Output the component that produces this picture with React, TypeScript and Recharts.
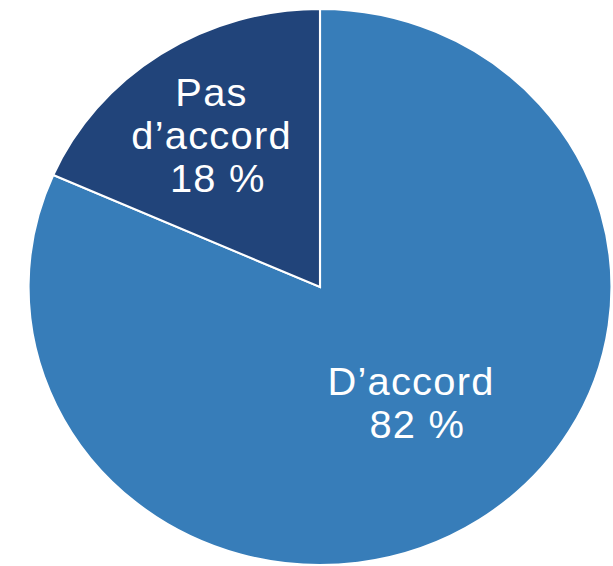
import { PieChart, Pie, Cell } from "recharts";

const categories = ["D’accord", "Pas\nd’accord"];
const values = [81.6, 18.4];
const colors = ["#377DB9", "#21447A"];

// label placement tweaks per slice (radius fraction, angle nudge in degrees)
const labelRadius = [0.52, 0.66];
const labelAngleShift = [3.8, 1.2];

const STRETCH_X = 1.0484;
const CX = 320;
const CY = 287;
const R = 278;
const FONT = 38;
const LINE = 43;

const data = categories.map((name, i) => ({ name, value: values[i] }));

const RADIAN = Math.PI / 180;

// eslint-disable-next-line @typescript-eslint/no-explicit-any
const renderLabel = (props: any) => {
  const { cx, cy, midAngle, outerRadius, index, name, value } = props;
  const angle = (midAngle + labelAngleShift[index]) * RADIAN;
  const r = outerRadius * labelRadius[index];
  const x = cx + r * Math.cos(angle);
  const y = cy - r * Math.sin(angle);
  const lines: string[] = [...String(name).split("\n"), `${Math.round(value)} %`];
  const firstBase = y - ((lines.length - 1) * LINE) / 2 + FONT * 0.36;
  return (
    <text
      key={`lbl-${index}`}
      x={x}
      y={firstBase}
      textAnchor="middle"
      fill="#FFFFFF"
      fontSize={FONT}
      letterSpacing={1.2}
      style={{ fontFamily: "'Liberation Sans', Arial, sans-serif" }}
    >
      {lines.map((ln, i) => (
        <tspan
          key={i}
          x={i === lines.length - 1 ? x + 6 : x}
          y={firstBase + i * LINE}
        >
          {ln}
        </tspan>
      ))}
    </text>
  );
};

export default function App() {
  return (
    <div
      style={{
        position: "absolute",
        left: 0,
        top: 0,
        width: 613,
        height: 566,
        overflow: "hidden",
        background: "#FFFFFF",
      }}
    >
      <div
        style={{
          width: 613,
          height: 566,
          transform: `scaleX(${STRETCH_X})`,
          transformOrigin: `${CX}px ${CY}px`,
        }}
      >
        <PieChart width={613} height={566} margin={{ top: 0, right: 0, bottom: 0, left: 0 }}>
          <Pie
            data={data}
            dataKey="value"
            nameKey="name"
            cx={CX}
            cy={CY}
            outerRadius={R}
            startAngle={90}
            endAngle={-270}
            stroke="#FFFFFF"
            strokeWidth={2}
            label={renderLabel}
            labelLine={false}
            isAnimationActive={false}
          >
            {data.map((d, i) => (
              <Cell key={d.name} fill={colors[i]} />
            ))}
          </Pie>
        </PieChart>
      </div>
    </div>
  );
}
